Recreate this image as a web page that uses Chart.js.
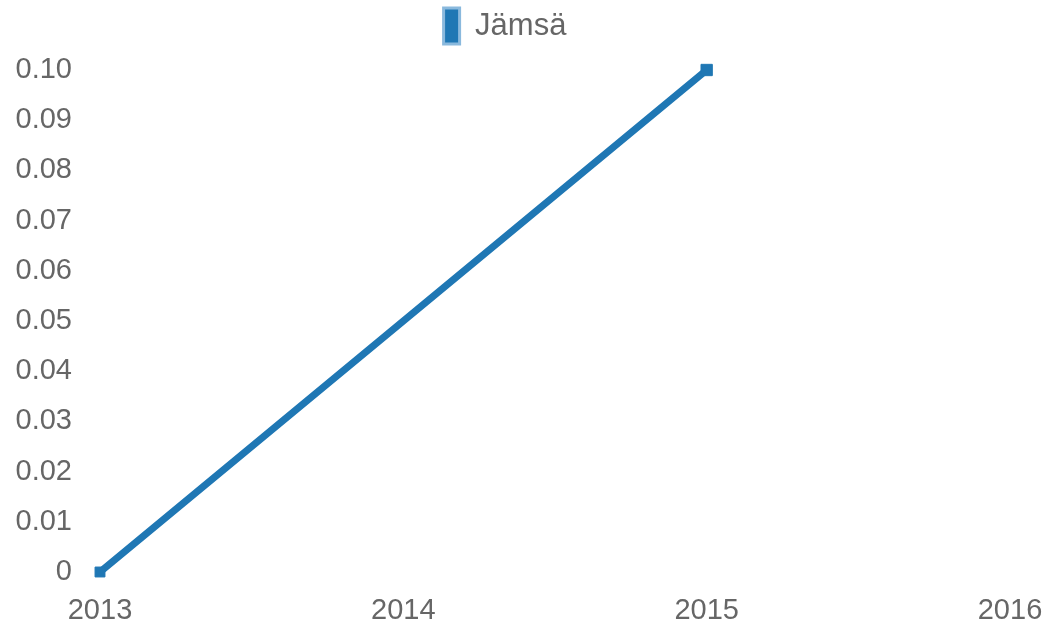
<!DOCTYPE html>
<html><head><meta charset="utf-8">
<script src="https://cdn.jsdelivr.net/npm/chart.js@4"></script>
<style>html,body{margin:0;padding:0;background:#fff}#w{width:1048px;height:635px}</style>
</head><body><div id="w"><canvas id="c"></canvas></div>
<script>
const years = ['2013', '2014', '2015', '2016'];
const seriesName = 'Jämsä';
const jamsaValues = [0, 0.05, 0.1, null];
const yTicks = [0, 0.01, 0.02, 0.03, 0.04, 0.05, 0.06, 0.07, 0.08, 0.09, 0.10];

const legendSpace = {
  id: 'legendSpace',
  beforeInit(chart) {
    const fit = chart.legend.fit;
    chart.legend.fit = function () {
      fit.bind(chart.legend)();
      this.height += 16;
    };
  }
};

new Chart(document.getElementById('c'), {
  type: 'line',
  data: {
    labels: years,
    datasets: [{
      label: seriesName,
      data: jamsaValues,
      borderColor: '#1f77b4',
      backgroundColor: '#1f77b4',
      borderWidth: 7,
      pointRadius: [7, 0, 8, 0],
      pointStyle: 'rect',
      pointBorderWidth: 1,
      fill: false,
      tension: 0,
      spanGaps: false,
      clip: false
    }]
  },
  plugins: [legendSpace],
  options: {
    responsive: true,
    maintainAspectRatio: false,
    animation: false,
    layout: { padding: { left: 0, right: 38, top: 0, bottom: 0 } },
    plugins: {
      legend: {
        display: true,
        labels: {
          font: { family: 'Liberation Sans, Arial', size: 31 },
          color: '#666',
          boxWidth: 16,
          boxHeight: 36,
          padding: 8,
          generateLabels: (chart) => [{
            text: seriesName,
            fillStyle: '#1f77b4',
            strokeStyle: '#8ab9dd',
            lineWidth: 3,
            fontColor: '#666'
          }]
        }
      },
      tooltip: { enabled: false }
    },
    scales: {
      x: {
        offset: false,
        grid: { display: false, drawTicks: false },
        border: { display: false },
        afterFit: (axis) => { axis.height = 63; axis.paddingRight = 0; axis.paddingLeft = 0; },
        ticks: { color: '#666', font: { family: 'Liberation Sans, Arial', size: 29 }, padding: 22, maxRotation: 0 }
      },
      y: {
        min: 0,
        max: 0.1,
        grid: { display: false, drawTicks: false },
        border: { display: false },
        afterFit: (axis) => { axis.width = 100; },
        afterBuildTicks: (axis) => { axis.ticks = yTicks.map(v => ({ value: v })); },
        ticks: {
          color: '#666',
          font: { family: 'Liberation Sans, Arial', size: 29 },
          padding: 28,
          callback: (v) => v === 0 ? '0' : v.toFixed(2)
        }
      }
    }
  }
});
</script>
</body></html>
